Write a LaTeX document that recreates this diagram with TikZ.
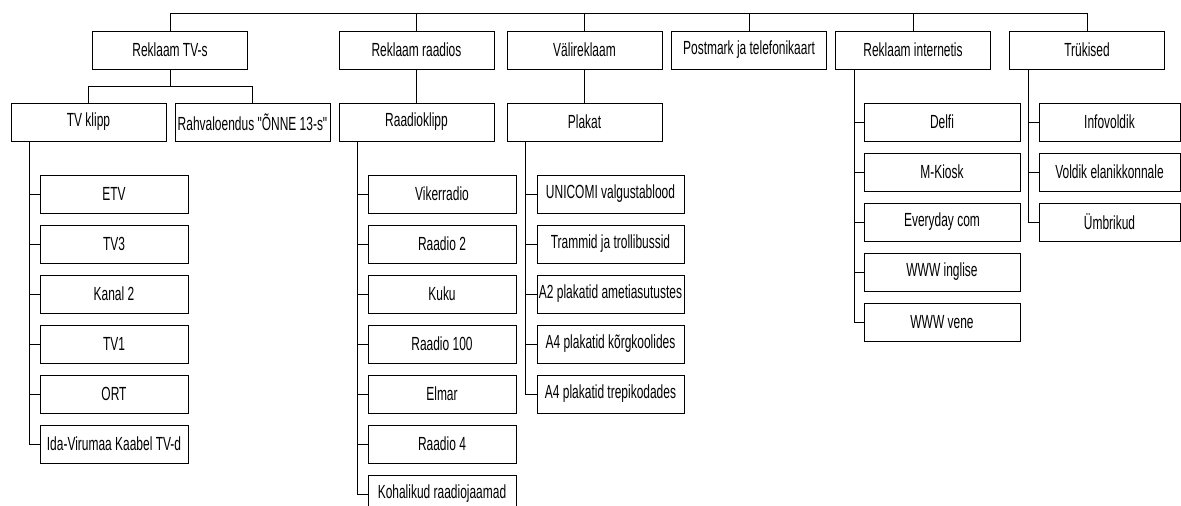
\documentclass[tikz,border=0pt]{standalone}
\usepackage{fontspec}
\newfontfamily\boxfont[FakeStretch=0.63]{Liberation Sans}
\usetikzlibrary{positioning,chains}

\begin{document}
\begin{tikzpicture}[%
    x=1pt, y=1pt,                % one unit per pixel of the layout
    node distance=50pt and 60pt, % list items sit 50pt apart
    ]
\tikzset{
  base/.style={draw, rectangle, line width=1pt, align=center, inner sep=1pt,
    minimum height=38pt, font=\boxfont\fontsize{19}{21}\selectfont},
  head/.style={base, minimum width=155pt},
  leaf/.style={base, on grid, on chain},
  link/.style={line width=1pt},
}
\useasboundingbox (0,0) rectangle (1181,-506);

% first level
\node [head] (tv)     at (170,-50)   {Reklaam TV-s};
\node [head] (raadio) at (416.5,-50) {Reklaam raadios};
\node [head] (vali)   at (584.5,-50) {Välireklaam};
\node [head] (post)   at (749,-50)   {Postmark ja telefonikaart};
\node [head] (inter)  at (913,-50)   {Reklaam internetis};
\node [head] (truk)   at (1087,-50)  {Trükised};

% second level
\node [head, on grid, below left=72pt and 81.5pt of tv]  (klipp)  {TV klipp};
\node [head, on grid, below right=72pt and 82.5pt of tv] (rahva)  {Rahvaloendus "ÕNNE 13-s"};
\node [head, on grid, below=72pt of raadio]              (rklipp) {Raadioklipp};
\node [head, on grid, below=72pt of vali]                (plakat) {Plakat};

% TV channels
\begin{scope}[start chain=going below, minimum width=148pt]
\node [leaf, below right=72pt and 25.5pt of klipp] (tv1) {ETV};
\node [leaf] (tv2) {TV3};
\node [leaf] (tv3) {Kanal 2};
\node [leaf] (tv4) {TV1};
\node [leaf] (tv5) {ORT};
\node [leaf] (tv6) {Ida-Virumaa Kaabel TV-d};
\end{scope}

% radio stations
\begin{scope}[start chain=going below, minimum width=148pt]
\node [leaf, below right=72pt and 25.5pt of rklipp] (r1) {Vikerradio};
\node [leaf] (r2) {Raadio 2};
\node [leaf] (r3) {Kuku};
\node [leaf] (r4) {Raadio 100};
\node [leaf] (r5) {Elmar};
\node [leaf] (r6) {Raadio 4};
\node [leaf] (r7) {Kohalikud raadiojaamad};
\end{scope}

% posters
\begin{scope}[start chain=going below, minimum width=147pt]
\node [leaf, below right=72pt and 26pt of plakat] (p1) {UNICOMI valgustablood};
\node [leaf] (p2) {Trammid ja trollibussid};
\node [leaf] (p3) {A2 plakatid ametiasutustes};
\node [leaf] (p4) {A4 plakatid kõrgkoolides};
\node [leaf] (p5) {A4 plakatid trepikodades};
\end{scope}

% internet
\begin{scope}[start chain=going below, minimum width=156pt]
\node [leaf, below right=72pt and 29pt of inter] (i1) {Delfi};
\node [leaf] (i2) {M-Kiosk};
\node [leaf] (i3) {Everyday com};
\node [leaf] (i4) {WWW inglise};
\node [leaf] (i5) {WWW vene};
\end{scope}

% prints
\begin{scope}[start chain=going below, minimum width=141pt]
\node [leaf, below right=72pt and 22.5pt of truk] (t1) {Infovoldik};
\node [leaf] (t2) {Voldik elanikkonnale};
\node [leaf] (t3) {Ümbrikud};
\end{scope}

%connect
\draw [link] (tv.north) -- ++(0,17pt) -| (truk.north);
\draw [link] (raadio.north) -- ++(0,17pt);
\draw [link] (vali.north) -- ++(0,17pt);
\draw [link] (post.north) -- ++(0,17pt);
\draw [link] (inter.north) -- ++(0,17pt);

\draw [link] (tv.south) -- ++(0,-17pt) -| (klipp.north);
\draw [link] (tv.south) ++(0,-17pt) -| (rahva.north);
\draw [link] (raadio) -- (rklipp);
\draw [link] (vali) -- (plakat);

\coordinate (tvspine) at ([xshift=19pt]klipp.south west);
\draw [link] (tvspine) |- (tv6.west);
\draw [link] (tv1.west) -- (tv1.west -| tvspine);
\draw [link] (tv2.west) -- (tv2.west -| tvspine);
\draw [link] (tv3.west) -- (tv3.west -| tvspine);
\draw [link] (tv4.west) -- (tv4.west -| tvspine);
\draw [link] (tv5.west) -- (tv5.west -| tvspine);

\coordinate (rspine) at ([xshift=19pt]rklipp.south west);
\draw [link] (rspine) |- (r7.west);
\draw [link] (r1.west) -- (r1.west -| rspine);
\draw [link] (r2.west) -- (r2.west -| rspine);
\draw [link] (r3.west) -- (r3.west -| rspine);
\draw [link] (r4.west) -- (r4.west -| rspine);
\draw [link] (r5.west) -- (r5.west -| rspine);
\draw [link] (r6.west) -- (r6.west -| rspine);

\coordinate (pspine) at ([xshift=19pt]plakat.south west);
\draw [link] (pspine) |- (p5.west);
\draw [link] (p1.west) -- (p1.west -| pspine);
\draw [link] (p2.west) -- (p2.west -| pspine);
\draw [link] (p3.west) -- (p3.west -| pspine);
\draw [link] (p4.west) -- (p4.west -| pspine);

\coordinate (ispine) at ([xshift=19pt]inter.south west);
\draw [link] (ispine) |- (i5.west);
\draw [link] (i1.west) -- (i1.west -| ispine);
\draw [link] (i2.west) -- (i2.west -| ispine);
\draw [link] (i3.west) -- (i3.west -| ispine);
\draw [link] (i4.west) -- (i4.west -| ispine);

\coordinate (tspine) at ([xshift=19pt]truk.south west);
\draw [link] (tspine) |- (t3.west);
\draw [link] (t1.west) -- (t1.west -| tspine);
\draw [link] (t2.west) -- (t2.west -| tspine);

\end{tikzpicture}
\end{document}
